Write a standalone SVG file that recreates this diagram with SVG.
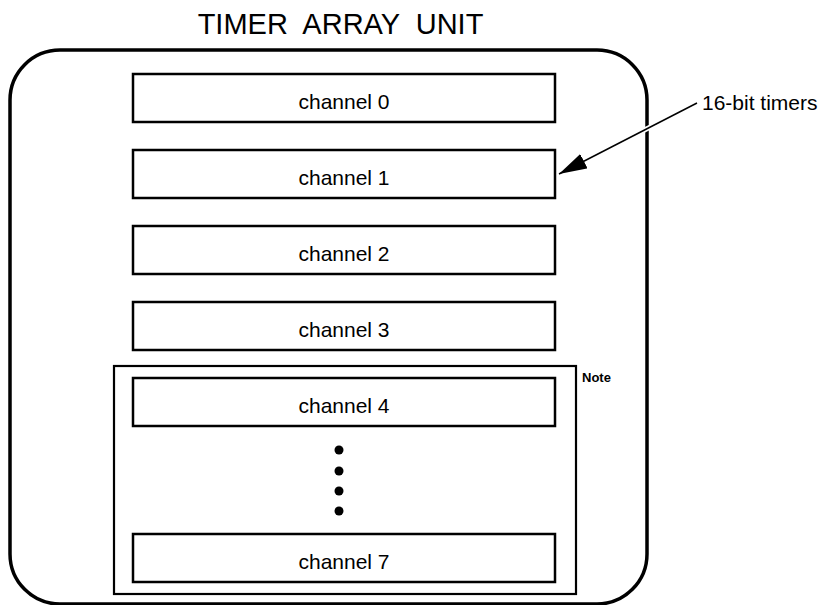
<svg xmlns="http://www.w3.org/2000/svg" width="821" height="605" viewBox="0 0 821 605">
<style>
text{font-family:"Liberation Sans",Arial,sans-serif;fill:#000}
.ch{fill:#fff;stroke:#000;stroke-width:2.5}
.lbl{font-size:21px;text-anchor:middle}
.dot{fill:#000}
</style>
<defs>
<marker id="ah" markerWidth="30" markerHeight="16" refX="28" refY="8" orient="auto" markerUnits="userSpaceOnUse">
<path d="M0,0 L28,8 L0,16 Z" fill="#000"/>
</marker>
</defs>
<rect width="821" height="605" fill="#fff"/>
<text x="340.5" y="34" style="font-size:29px;text-anchor:middle;white-space:pre" xml:space="preserve">TIMER  ARRAY  UNIT</text>
<g id="unit">
<rect x="10" y="50" width="637" height="554" rx="50" ry="50" fill="none" stroke="#000" stroke-width="3.5"/>
</g>
<g id="note-group">
<rect x="114" y="366" width="462" height="228" fill="none" stroke="#000" stroke-width="2.2"/>
<text x="582" y="382" style="font-size:13px;font-weight:bold">Note</text>
</g>
<g id="ch0"><rect class="ch" x="133" y="74" width="422" height="48"/><text class="lbl" x="344" y="108.5">channel 0</text></g>
<g id="ch1"><rect class="ch" x="133" y="150" width="422" height="48"/><text class="lbl" x="344" y="184.5">channel 1</text></g>
<g id="ch2"><rect class="ch" x="133" y="226" width="422" height="48"/><text class="lbl" x="344" y="260.5">channel 2</text></g>
<g id="ch3"><rect class="ch" x="133" y="302" width="422" height="48"/><text class="lbl" x="344" y="336.5">channel 3</text></g>
<g id="ch4"><rect class="ch" x="133" y="378" width="422" height="48"/><text class="lbl" x="344" y="412.5">channel 4</text></g>
<g id="dots">
<circle class="dot" cx="339" cy="450" r="4.5"/>
<circle class="dot" cx="339" cy="471" r="4.5"/>
<circle class="dot" cx="339" cy="491" r="4.5"/>
<circle class="dot" cx="339" cy="511" r="4.5"/>
</g>
<g id="ch7"><rect class="ch" x="133" y="534" width="422" height="48"/><text class="lbl" x="344" y="568.5">channel 7</text></g>
<g id="label-timers"><text x="702" y="110" style="font-size:21px">16-bit timers</text></g>
<g id="connectors">
<line x1="697" y1="103" x2="559" y2="174" stroke="#fff" stroke-width="5"/>
<line x1="697" y1="103" x2="559" y2="174" stroke="#000" stroke-width="1.5" marker-end="url(#ah)"/>
</g>
</svg>
